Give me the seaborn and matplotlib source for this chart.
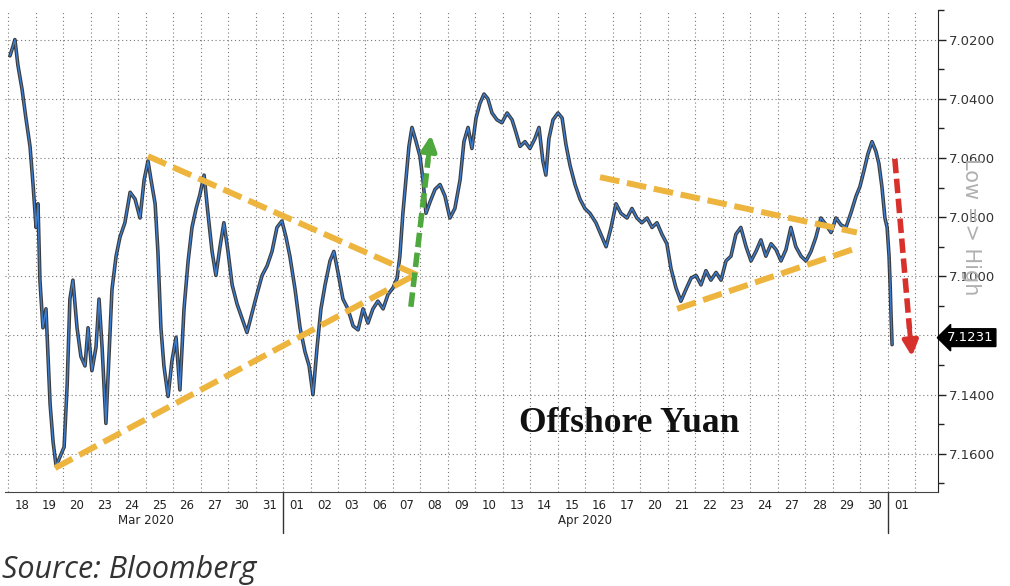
import numpy as np
import pandas as pd
import matplotlib
matplotlib.use("Agg")
import matplotlib.pyplot as plt
import seaborn as sns

# %%
# Offshore yuan (USD/CNH) intraday path
# day_pos: trading-day position (0 = start of 18 Mar, one unit per trading day)
day_pos = [0.07, 0.18, 0.25, 0.36, 0.51, 0.65, 0.80, 0.91, 1.02, 1.09, 1.16, 1.27, 1.38, 1.53,
           1.64, 1.75, 1.89, 2.04, 2.15, 2.25, 2.36, 2.51, 2.65, 2.80, 2.91, 3.05, 3.20, 3.31,
           3.42, 3.56, 3.67, 3.78, 3.93, 4.07, 4.25, 4.44, 4.62, 4.80, 4.95, 5.09, 5.20, 5.35,
           5.45, 5.56, 5.67, 5.82, 5.96, 6.11, 6.25, 6.40, 6.55, 6.69, 6.84, 6.98, 7.13, 7.27,
           7.42, 7.56, 7.71, 7.85, 8.00, 8.15, 8.33, 8.51, 8.69, 8.87, 9.05, 9.24, 9.42, 9.60,
           9.78, 9.96, 10.11, 10.25, 10.44, 10.62, 10.80, 10.95, 11.09, 11.24, 11.38, 11.53,
           11.71, 11.85, 12.00, 12.18, 12.36, 12.55, 12.73, 12.91, 13.09, 13.27, 13.45, 13.64,
           13.82, 14.00, 14.15, 14.25, 14.36, 14.47, 14.58, 14.69, 14.84, 14.98, 15.09, 15.20,
           15.35, 15.53, 15.71, 15.89, 16.07, 16.25, 16.44, 16.58, 16.73, 16.87, 17.02, 17.16,
           17.31, 17.45, 17.60, 17.78, 17.96, 18.15, 18.33, 18.47, 18.62, 18.80, 18.98, 19.16,
           19.31, 19.45, 19.56, 19.67, 19.82, 20.00, 20.15, 20.29, 20.44, 20.62, 20.80, 20.98,
           21.16, 21.38, 21.56, 21.75, 21.93, 22.11, 22.29, 22.51, 22.69, 22.87, 23.05, 23.24,
           23.42, 23.60, 23.78, 23.96, 24.11, 24.29, 24.47, 24.65, 24.84, 25.02, 25.20, 25.38,
           25.56, 25.75, 25.93, 26.11, 26.29, 26.47, 26.65, 26.84, 27.02, 27.20, 27.38, 27.56,
           27.75, 27.93, 28.11, 28.29, 28.47, 28.65, 28.84, 29.02, 29.20, 29.38, 29.56, 29.75,
           29.93, 30.11, 30.29, 30.47, 30.65, 30.84, 30.98, 31.13, 31.27, 31.42, 31.56, 31.67,
           31.78, 31.89, 31.97, 32.04, 32.08, 32.11, 32.15]
price = [7.0255, 7.0223, 7.0200, 7.0287, 7.0368, 7.0465, 7.0561, 7.0690, 7.0835, 7.0755,
         7.1013, 7.1174, 7.1110, 7.1432, 7.1561, 7.1642, 7.1610, 7.1577, 7.1368, 7.1077,
         7.1013, 7.1174, 7.1271, 7.1303, 7.1174, 7.1319, 7.1239, 7.1077, 7.1239, 7.1497,
         7.1271, 7.1045, 7.0932, 7.0868, 7.0819, 7.0716, 7.0739, 7.0803, 7.0674, 7.0610,
         7.0674, 7.0755, 7.0916, 7.1174, 7.1303, 7.1406, 7.1287, 7.1206, 7.1384, 7.1110,
         7.0948, 7.0835, 7.0771, 7.0723, 7.0658, 7.0787, 7.0916, 7.0997, 7.0900, 7.0819,
         7.0916, 7.1029, 7.1094, 7.1142, 7.1190, 7.1126, 7.1061, 7.0997, 7.0965, 7.0916,
         7.0835, 7.0813, 7.0868, 7.0932, 7.1045, 7.1174, 7.1255, 7.1303, 7.1400, 7.1239,
         7.1110, 7.1029, 7.0948, 7.0916, 7.0987, 7.1077, 7.1110, 7.1168, 7.1181, 7.1110,
         7.1158, 7.1110, 7.1084, 7.1110, 7.1061, 7.1039, 7.1006, 7.0932, 7.0787, 7.0674,
         7.0561, 7.0497, 7.0545, 7.0594, 7.0674, 7.0787, 7.0748, 7.0706, 7.0690, 7.0729,
         7.0803, 7.0771, 7.0674, 7.0545, 7.0497, 7.0568, 7.0465, 7.0416, 7.0384, 7.0400,
         7.0448, 7.0471, 7.0481, 7.0448, 7.0471, 7.0513, 7.0561, 7.0545, 7.0568, 7.0535,
         7.0497, 7.0610, 7.0658, 7.0535, 7.0471, 7.0448, 7.0465, 7.0555, 7.0626, 7.0690,
         7.0739, 7.0771, 7.0787, 7.0819, 7.0858, 7.0900, 7.0835, 7.0755, 7.0787, 7.0803,
         7.0771, 7.0803, 7.0819, 7.0803, 7.0835, 7.0819, 7.0858, 7.0890, 7.0974, 7.1039,
         7.1084, 7.1045, 7.1006, 7.0997, 7.1029, 7.0981, 7.1013, 7.0987, 7.1013, 7.0948,
         7.0932, 7.0858, 7.0835, 7.0900, 7.0948, 7.0916, 7.0877, 7.0932, 7.0890, 7.0910,
         7.0948, 7.0910, 7.0835, 7.0900, 7.0932, 7.0948, 7.0916, 7.0868, 7.0803, 7.0826,
         7.0852, 7.0803, 7.0826, 7.0835, 7.0787, 7.0729, 7.0697, 7.0642, 7.0587, 7.0545,
         7.0577, 7.0619, 7.0697, 7.0803, 7.0835, 7.0932, 7.1029, 7.1126, 7.1231]

day_labels = ['18', '19', '20', '23', '24', '25', '26', '27', '30', '31',
              '01', '02', '03', '06', '07', '08', '09', '10', '13', '14', '15', '16', '17',
              '20', '21', '22', '23', '24', '27', '28', '29', '30', '01']
month_names = ['Mar 2020', 'Apr 2020']
month_bounds = [0, 10, 32, 33]
y_ticks = [7.02, 7.04, 7.06, 7.08, 7.10, 7.12, 7.14, 7.16]
last_price = 7.1231

# hand-drawn annotations: (day positions, prices)
left_upper = ([5.09, 14.91], [7.0594, 7.0997])
left_lower = ([1.71, 14.91], [7.1648, 7.0990])
right_upper = ([21.53, 30.87], [7.0665, 7.0852])
right_lower = ([24.33, 30.69], [7.1110, 7.0910])
green_arrow = ([14.65, 15.38], [7.1103, 7.0523])
red_arrow = ([32.25, 32.87], [7.0603, 7.1271])

df = pd.DataFrame({'pos': day_pos, 'price': price})

# %%
sns.set_style('white')
fig = plt.figure(figsize=(10.1, 5.86), dpi=100)
ax = fig.add_axes([5 / 1010, 94 / 586, 933 / 1010, 482 / 586])

# candle-ish look: dark wide trace with a blue line on top
sns.lineplot(data=df, x='pos', y='price', ax=ax, color='#1a1a1a', lw=2.6, alpha=0.85, zorder=3)
sns.lineplot(data=df, x='pos', y='price', ax=ax, color='#3b7dd0', lw=1.0, zorder=4)

ax.set_xlim(-0.11, 33.82)
ax.set_ylim(7.1729, 7.0174)

# grid
dot = dict(color='#7a7a7a', lw=0.8, linestyle=(0, (1, 2.5)), zorder=1)
for b in range(0, 34):
    ax.axvline(b, **dot)
for yt in y_ticks:
    ax.axhline(yt, **dot)

# trend lines
orange = '#EDB43E'
for xs, ys in [left_upper, left_lower, right_upper, right_lower]:
    ax.plot(xs, ys, color=orange, lw=4.3, dashes=(3.3, 1.3), solid_capstyle='butt', zorder=5)


def dashed_arrow(xs, ys, color):
    x0, x1 = xs
    y0, y1 = ys
    xm = x0 + (x1 - x0) * 0.86
    ym = y0 + (y1 - y0) * 0.86
    ax.plot([x0, xm], [y0, ym], color=color, lw=4.0, dashes=(2.6, 1.0), zorder=5)
    ax.annotate('', xy=(x1, y1), xytext=(xm, ym),
                arrowprops=dict(arrowstyle='-|>,head_length=0.9,head_width=0.45',
                                color=color, lw=3.5, shrinkA=0, shrinkB=0), zorder=5)


dashed_arrow(*green_arrow, '#4fa83d')
dashed_arrow(*red_arrow, '#d8312c')

ax.text(22.58, 7.1497, 'Offshore Yuan', fontsize=25.5, fontweight='bold',
        family='Liberation Serif', color='#111111', ha='center', va='center', zorder=6)

# right-hand price axis
ax.yaxis.tick_right()
ax.set_yticks(y_ticks)
ax.set_yticklabels([f'{v:.4f}' for v in y_ticks], fontsize=9.5, color='#333333')
ax.set_yticks([v + 0.01 for v in y_ticks] + [7.01], minor=True)
ax.tick_params(axis='y', which='major', direction='out', length=6, width=1, color='#222', pad=2, right=True)
ax.tick_params(axis='y', which='minor', direction='out', length=4, width=1, color='#222', right=True)
ax.set_ylabel('')
ax.text(1.035, 0.55, 'Low => High', transform=ax.transAxes, rotation=-90,
        fontsize=15, color='#b0b0b0', ha='center', va='center')
ax.text(1.0095, (7.1729 - last_price) / (7.1729 - 7.0174), f'{last_price:.4f}',
        transform=ax.transAxes, fontsize=9.5, color='white', ha='left', va='center',
        bbox=dict(boxstyle='larrow,pad=0.18', fc='black', ec='black'), zorder=10, clip_on=False)

# x axis: day labels centered in cells, month labels below
ax.set_xticks(range(0, 34))
ax.set_xticklabels([])
ax.set_xticks([i + 0.5 for i in range(len(day_labels))], minor=True)
ax.set_xticklabels(day_labels, minor=True, fontsize=8.5, color='#222222',
                   family=['Liberation Sans Narrow', 'DejaVu Sans'])
ax.tick_params(axis='x', which='major', direction='out', length=5, width=0.6, color='#999')
ax.tick_params(axis='x', which='minor', length=0, pad=5)
ax.set_xlabel('')
for i, name in enumerate(month_names):
    mid = (month_bounds[i] + month_bounds[i + 1]) / 2
    ax.text(mid, -0.06, name, transform=ax.get_xaxis_transform(), fontsize=8.5,
            color='#222222', ha='center', va='center', family=['Liberation Sans Narrow', 'DejaVu Sans'])
for b in month_bounds[1:3]:
    ax.plot([b, b], [0, -0.085], transform=ax.get_xaxis_transform(), color='#333',
            lw=1, clip_on=False)

for s in ['top', 'left']:
    ax.spines[s].set_visible(False)
ax.spines['right'].set_color('#222')
ax.spines['bottom'].set_color('#444')

fig.text(0.002, 0.027, 'Source: Bloomberg', fontsize=22, style='italic',
         family='Open Sans', color='#333333', ha='left', va='center')

fig.savefig('out.png', dpi=100, facecolor='white')
